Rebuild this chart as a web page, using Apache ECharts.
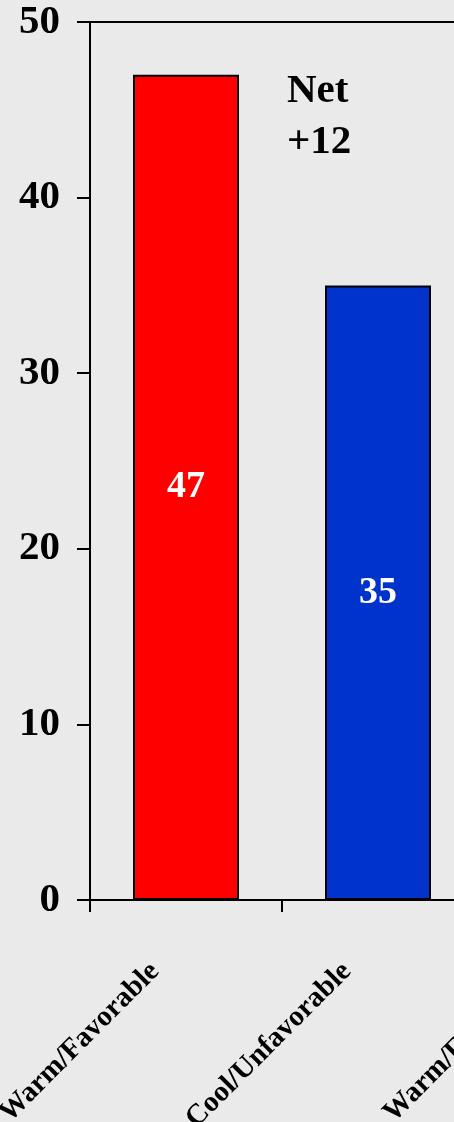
<!DOCTYPE html>
<html>
<head>
<meta charset="utf-8">
<script src="https://cdn.jsdelivr.net/npm/echarts@6/dist/echarts.min.js"></script>
<style>
  html, body { margin: 0; padding: 0; background: #eaeaea; overflow: hidden; }
  #chart { width: 454px; height: 1122px; }
</style>
</head>
<body>
<div id="chart"></div>
<script>
// categories (third one is cut off at the right edge of the picture)
const categories = ['Warm/Favorable', 'Cool/Unfavorable', 'Warm/Favorable'];
const values = [47, 35, null];
const barColors = ['#ff0000', '#0033cc', '#0033cc'];
const yTicks = [0, 10, 20, 30, 40, 50];
const netText = 'Net\n+12';

const serif = '"Liberation Serif", "Times New Roman", serif';

const chart = echarts.init(document.getElementById('chart'));

const option = {
  backgroundColor: '#eaeaea',
  animation: false,
  grid: {
    left: 90,
    top: 22,
    width: 576,
    height: 878,
    outerBoundsMode: 'none',
    containLabel: false,
    show: true,
    borderColor: '#000',
    borderWidth: 2,
    backgroundColor: 'transparent'
  },
  xAxis: {
    type: 'category',
    data: categories,
    axisLine: { lineStyle: { color: '#000', width: 2 } },
    axisTick: { show: true, length: 12, lineStyle: { color: '#000', width: 2 } },
    axisLabel: {
      rotate: 45,
      interval: 0,
      margin: 36,
      padding: [0, 44, 0, 0],
      color: '#000',
      fontFamily: serif,
      fontWeight: 'bold',
      fontSize: 29
    }
  },
  yAxis: {
    type: 'value',
    min: yTicks[0],
    max: yTicks[yTicks.length - 1],
    interval: 10,
    axisLine: { show: true, lineStyle: { color: '#000', width: 2 } },
    axisTick: { show: true, length: 13, lineStyle: { color: '#000', width: 2 } },
    splitLine: { show: false },
    axisLabel: {
      margin: 30,
      color: '#000',
      fontFamily: serif,
      fontWeight: 'bold',
      fontSize: 41
    }
  },
  series: [{
    type: 'bar',
    barWidth: 106,
    data: values.map((v, i) => ({
      value: v,
      itemStyle: { color: barColors[i] }
    })),
    itemStyle: { borderColor: '#000', borderWidth: 2 },
    label: {
      show: true,
      position: 'inside',
      color: '#fff',
      fontFamily: serif,
      fontWeight: 'bold',
      fontSize: 38
    }
  }],
  graphic: [{
    type: 'text',
    left: 287,
    top: 66,
    style: {
      text: netText,
      fill: '#000',
      font: 'bold 41px ' + serif,
      lineHeight: 51
    }
  }]
};

chart.setOption(option);
</script>
</body>
</html>
